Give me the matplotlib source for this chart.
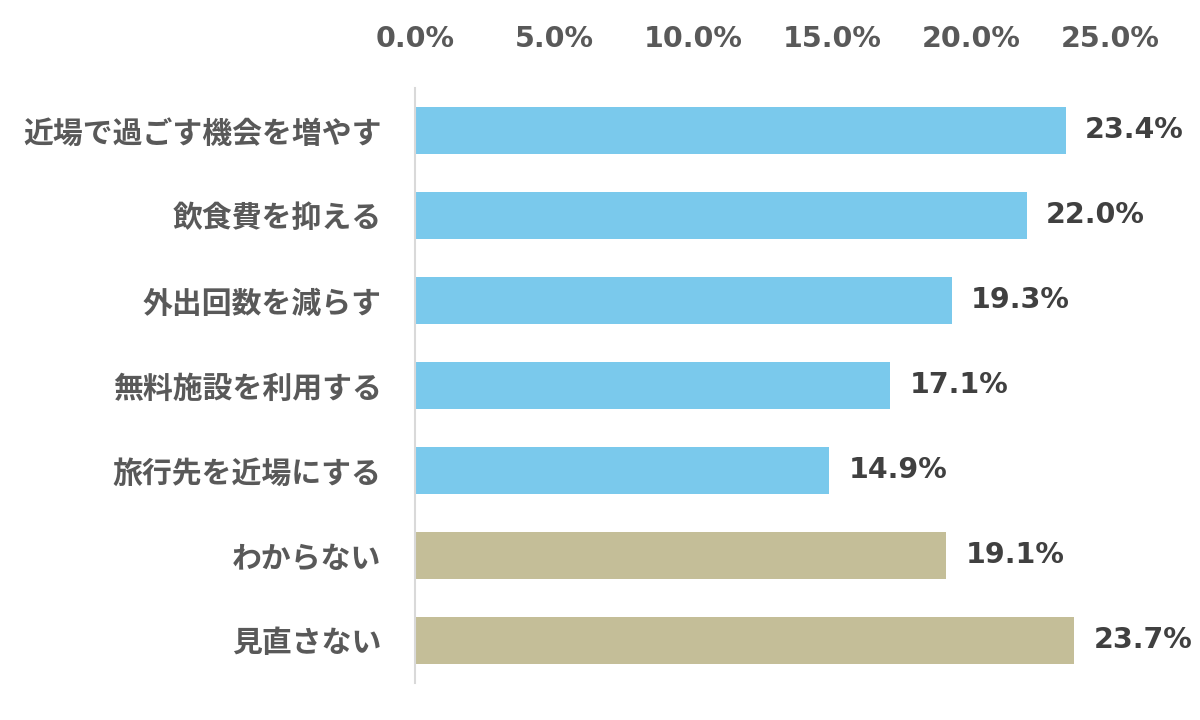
import matplotlib
matplotlib.use("Agg")
import matplotlib.pyplot as plt

plt.rcParams['font.family'] = ['Noto Sans CJK JP', 'DejaVu Sans']

categories = ["近場で過ごす機会を増やす", "飲食費を抑える", "外出回数を減らす", "無料施設を利用する",
              "旅行先を近場にする", "わからない", "見直さない"]
values = [23.4, 22.0, 19.3, 17.1, 14.9, 19.1, 23.7]
colors = ["#7AC9EC"] * 5 + ["#C4BE98"] * 2
xticks = [0, 5, 10, 15, 20, 25]

fig = plt.figure(figsize=(12, 7.2), dpi=100)
ax = fig.add_axes([0.3458, 0.0514, 0.925 - 0.3458, 0.8264])

y = list(range(len(categories)))
ax.barh(y, values, height=0.55, color=colors)
ax.set_ylim(len(categories) - 0.5, -0.5)
ax.set_xlim(0, 25)

ax.set_yticks(y)
ax.set_yticklabels(categories, fontsize=21.5, fontweight="bold", color="#595959")
ax.xaxis.tick_top()
ax.set_xticks(xticks)
ax.set_xticklabels(["{0:.1f}%".format(t) for t in xticks], fontsize=20.5,
                   fontweight="bold", color="#595959", family="DejaVu Sans")
ax.tick_params(axis="both", length=0)
ax.tick_params(axis="x", pad=25)
ax.tick_params(axis="y", pad=24)

for s in ["top", "right", "bottom"]:
    ax.spines[s].set_visible(False)
ax.spines["left"].set_color("#D9D9D9")
ax.spines["left"].set_linewidth(1.5)

for yi, v in zip(y, values):
    ax.annotate("{0:.1f}%".format(v), (v, yi), xytext=(14, 0), textcoords="offset points",
                va="center", ha="left", fontsize=20.5, fontweight="bold", color="#404040",
                family="DejaVu Sans", annotation_clip=False)

fig.savefig("out.png", dpi=100)
